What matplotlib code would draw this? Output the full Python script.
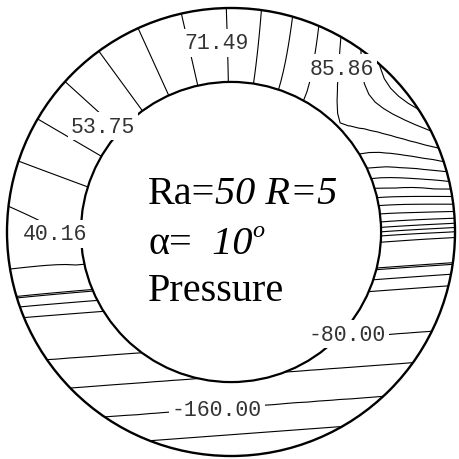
import numpy as np
import matplotlib
matplotlib.use("Agg")
import matplotlib.pyplot as plt
from matplotlib.patches import Circle

plt.rcParams["contour.negative_linestyle"] = "solid"

# ---- annulus geometry (outer radius normalised to 1) ----
R_IN = 0.67
R_OUT = 1.0

# ---- contour levels of the pressure field ----
levels_lower = [-200.0, -160.0, -120.0, -80.0]
levels_middle = [-26.0, -12.0, 0.0, 2.0, 33.0]
levels_upper = [40.16, 44.69, 49.22, 53.75, 58.19, 62.62, 67.06, 71.49,
                75.08, 78.67, 82.27, 85.86, 89.45, 92.5]

# labelled contours and the centre of each label (x, y)
labelled_levels = [71.49, 53.75, 40.16, 85.86, -80.00, -160.00]
label_x = [-0.0625, -0.5714, -0.7857, 0.4955, 0.5179, -0.0625]
label_y = [0.8438, 0.4732, -0.0089, 0.7321, -0.4554, -0.7946]

# stratified pressure profile against tilted height (lower part)
strat_height = [-1.10, -0.905, -0.785, -0.643, -0.51, -0.07, -0.011,
                0.064, 0.133, 0.242, 0.45]
strat_value = [-265.0, -200.0, -160.0, -120.0, -80.0, 39.8, 53.2,
               61.6, 69.7, 76.3, 84.0]
TILT = 0.074

# angular pressure profile above the hot cylinder:
#   p = PEAK_C - PEAK_S * sqrt((theta - PEAK_AT)^2 + PEAK_ROUND^2)
PEAK_C = 89.55
PEAK_S = 0.3835
PEAK_AT = 45.0
PEAK_ROUND = 10.0
# extra pressure against the outer wall beside the plume
WALL_AMP = 9.0
WALL_AT = 36.0
WALL_SPREAD = 25.0
# slight excess along the inner wall on the left-hand side
INNER_AMP = 3.0
INNER_AT = 180.0
INNER_SPREAD = 12.0
# how far the stratified profile may exceed the angular one in the blend
STRAT_CAP = 1.0

# boundary between the stratified and the angular regimes
BLEND_A = 0.109
BLEND_B = 0.279
BLEND_W = 0.05

# ---- pressure field on a coarse polar mesh ----
theta = np.radians(np.linspace(-90.0, 270.0, 121))
radius = np.linspace(R_IN, R_OUT, 9)
TH, RR = np.meshgrid(theta, radius)
X = RR * np.cos(TH)
Y = RR * np.sin(TH)
deg = np.degrees(TH)
rho = (RR - R_IN) / (R_OUT - R_IN)

Yt = Y - TILT * X
p_ang = (PEAK_C - PEAK_S * np.sqrt((deg - PEAK_AT) ** 2 + PEAK_ROUND ** 2)
         + INNER_AMP * np.exp(-((deg - INNER_AT) / INNER_SPREAD) ** 2) * (1 - rho))
p_strat = np.minimum(np.interp(Yt, strat_height, strat_value), p_ang + STRAT_CAP)
p_wall = WALL_AMP * np.exp(-((deg - WALL_AT) / WALL_SPREAD) ** 2) * rho ** 1.5
w = 1.0 / (1.0 + np.exp(-(Y - (BLEND_A + BLEND_B * X)) / BLEND_W))
P = w * p_ang + (1.0 - w) * p_strat + p_wall

# ---- figure ----
fig = plt.figure(figsize=(4.59, 4.60), dpi=100)
ax = fig.add_axes([0, 0, 1, 1])
ax.set_xlim(-231 / 224, 228 / 224)
ax.set_ylim(-227 / 224, 233 / 224)
ax.set_aspect("equal")
ax.axis("off")

all_levels = sorted(levels_lower + levels_middle + levels_upper)
cs = ax.contour(X, Y, P, levels=all_levels, colors="black",
                linewidths=0.8, linestyles="solid", zorder=2)

ax.add_patch(Circle((0, 0), R_OUT, fill=False, lw=1.7, ec="black", zorder=3))
ax.add_patch(Circle((0, 0), R_IN, fill=False, lw=1.6, ec="black", zorder=3))

# contour labels with a white box that breaks the lines underneath
for lev, lx, ly in zip(labelled_levels, label_x, label_y):
    ax.text(lx, ly, f"{lev:.2f}", family="Liberation Mono", fontsize=15.5,
            color="#333333", ha="center", va="center", zorder=5,
            bbox=dict(boxstyle="square,pad=0.15", fc="white", ec="none"))

# ---- annotation in the centre ----
serif = "Liberation Serif"
FS = 29.0


def write_line(x, y, parts):
    prev = None
    for txt, style, size, dy in parts:
        if prev is None:
            prev = ax.text(x, y, txt, family=serif, style=style, fontsize=size,
                           ha="left", va="baseline", zorder=6)
        else:
            prev = ax.annotate(txt, xy=(1, dy), xycoords=prev, family=serif,
                               style=style, fontsize=size, ha="left",
                               va="bottom", zorder=6)


write_line(-0.3705, 0.128, [("Ra=", "normal", FS, 0),
                            ("50 R=5", "italic", FS, 0)])
write_line(-0.3705, -0.092, [("\u03b1=", "normal", FS, 0),
                             ("  10", "italic", FS, 0),
                             ("o", "italic", FS * 0.6, 0.55)])
write_line(-0.3705, -0.302, [("Pressure", "normal", FS, 0)])

fig.savefig("out.png", dpi=100, facecolor="white")
